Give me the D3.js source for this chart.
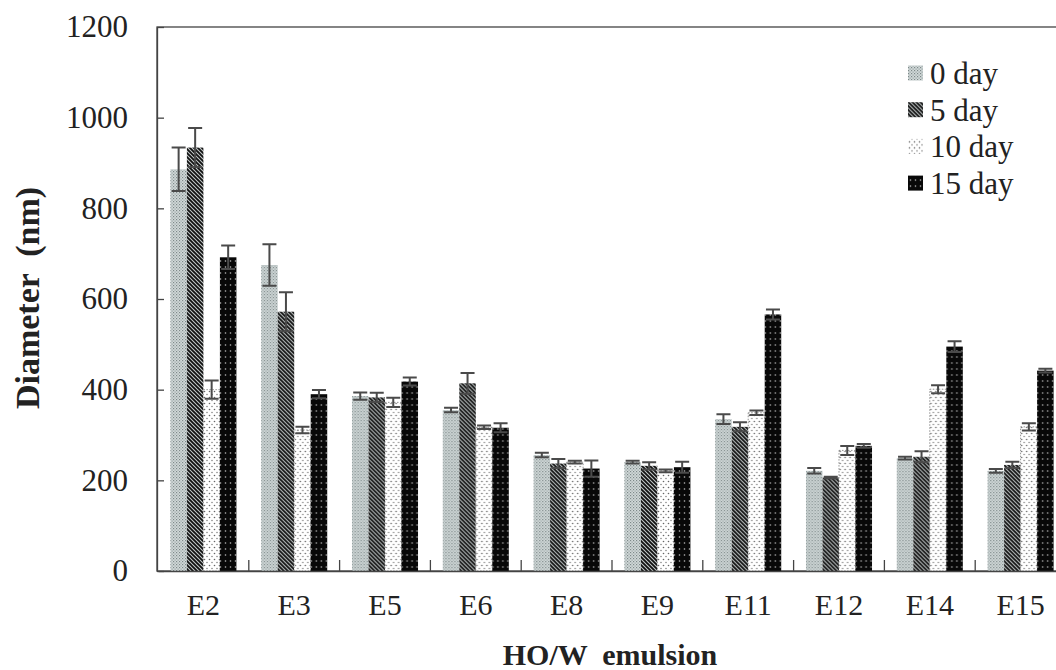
<!DOCTYPE html>
<html>
<head>
<meta charset="utf-8">
<script src="https://cdn.jsdelivr.net/npm/d3@7"></script>
<style>
  body { margin: 0; background: #fff; }
  svg text { font-family: "Liberation Serif", "Times New Roman", serif; fill: #222; }
</style>
</head>
<body>
<div id="chart"></div>
<script>
// emulsion samples
const categories = ["E2", "E3", "E5", "E6", "E8", "E9", "E11", "E12", "E14", "E15"];
const seriesNames = ["0 day", "5 day", "10 day", "15 day"];

// mean diameter (nm) per series, in category order
const day0  = [886, 675, 386, 355, 256, 240, 335, 221, 249, 221];
const day5  = [934, 572, 383, 414, 237, 232, 318, 206, 252, 234];
const day10 = [400, 311, 372, 317, 240, 221, 349, 266, 401, 318];
const day15 = [692, 390, 418, 316, 226, 229, 566, 276, 495, 442];

// error bars (nm)
const err0  = [48, 46, 8, 5, 5, 3, 11, 6, 3, 4];
const err5  = [43, 43, 10, 23, 10, 8, 10, 2, 12, 7];
const err10 = [20, 7, 10, 4, 3, 3, 5, 10, 9, 8];
const err15 = [26, 9, 9, 10, 18, 12, 11, 4, 12, 4];

const yTicks = [0, 200, 400, 600, 800, 1000, 1200];

const values = [day0, day5, day10, day15];
const errors = [err0, err5, err10, err15];

const W = 1056, H = 670;
const plotLeft = 157, plotTop = 27, plotBottom = 571;

const svg = d3.select("#chart").append("svg")
  .attr("width", W).attr("height", H);

// fill patterns
const defs = svg.append("defs");

let p = defs.append("pattern").attr("id", "pat0")
  .attr("patternUnits", "userSpaceOnUse").attr("width", 3).attr("height", 3);
p.append("rect").attr("width", 3).attr("height", 3).attr("fill", "#d2d9d9");
p.append("rect").attr("x", 0).attr("y", 0).attr("width", 1.2).attr("height", 1.2).attr("fill", "#7d8989");
p.append("rect").attr("x", 1.5).attr("y", 1.5).attr("width", 1.2).attr("height", 1.2).attr("fill", "#95a0a0");

p = defs.append("pattern").attr("id", "pat1")
  .attr("patternUnits", "userSpaceOnUse").attr("width", 4).attr("height", 4);
p.append("rect").attr("width", 4).attr("height", 4).attr("fill", "#c3c9c9");
p.append("path").attr("d", "M-1,-1L5,5M-1,3L1,5M3,-1L5,1")
  .attr("stroke", "#111").attr("stroke-width", 1.8);

p = defs.append("pattern").attr("id", "pat2")
  .attr("patternUnits", "userSpaceOnUse").attr("width", 5).attr("height", 6);
p.append("rect").attr("width", 5).attr("height", 6).attr("fill", "#fff");
p.append("circle").attr("cx", 1.5).attr("cy", 1.5).attr("r", 0.8).attr("fill", "#666");
p.append("circle").attr("cx", 4).attr("cy", 4.5).attr("r", 0.8).attr("fill", "#888");

p = defs.append("pattern").attr("id", "pat3")
  .attr("patternUnits", "userSpaceOnUse").attr("width", 5).attr("height", 6);
p.append("rect").attr("width", 5).attr("height", 6).attr("fill", "#080808");
p.append("circle").attr("cx", 2.5).attr("cy", 3).attr("r", 0.8).attr("fill", "#bbb");

const fills = ["url(#pat0)", "url(#pat1)", "url(#pat2)", "url(#pat3)"];

// scales
const x = d3.scaleBand().domain(categories).range([plotLeft + 1, plotLeft + 1 + 90.8 * categories.length]);
const xSub = d3.scaleBand().domain(seriesNames).range([0, x.bandwidth()]).paddingOuter(0.75);
const y = d3.scaleLinear().domain([0, 1200]).range([plotBottom, plotTop]);

// frame (right side runs past the window)
svg.append("rect")
  .attr("x", plotLeft).attr("y", plotTop)
  .attr("width", x.range()[1] - plotLeft).attr("height", plotBottom - plotTop)
  .attr("fill", "none").attr("stroke", "#444").attr("stroke-width", 1.3);

// bars
const groups = svg.append("g").selectAll("g")
  .data(categories)
  .join("g")
  .attr("transform", d => "translate(" + x(d) + ",0)");

seriesNames.forEach((s, si) => {
  groups.append("rect")
    .attr("x", xSub(s))
    .attr("y", (d, i) => y(values[si][i]))
    .attr("width", xSub.bandwidth())
    .attr("height", (d, i) => plotBottom - y(values[si][i]))
    .attr("fill", fills[si])
    .attr("stroke", si == 2 ? "#777" : "none")
    .attr("stroke-width", 0.8)
    .attr("stroke-dasharray", si == 2 ? "1.5,1.5" : null);
});

// error bars
seriesNames.forEach((s, si) => {
  const cx = xSub(s) + xSub.bandwidth() / 2;
  groups.append("path")
    .attr("d", (d, i) => {
      const v = values[si][i], e = errors[si][i];
      const y1 = y(v + e), y2 = y(v - e);
      return "M" + cx + "," + y1 + "V" + y2 +
        "M" + (cx - 7) + "," + y1 + "H" + (cx + 7) +
        "M" + (cx - 7) + "," + y2 + "H" + (cx + 7);
    })
    .attr("fill", "none")
    .attr("stroke", "#4a4a4a")
    .attr("stroke-width", 2);
});

// y axis
const yAxis = svg.append("g")
  .attr("transform", "translate(" + plotLeft + ",0)")
  .call(d3.axisLeft(y).tickValues(yTicks).tickFormat(d3.format("d"))
    .tickSizeInner(-7).tickSizeOuter(0).tickPadding(29));
yAxis.select(".domain").attr("stroke", "#444").attr("stroke-width", 1.3);
yAxis.selectAll(".tick line").attr("stroke", "#444").attr("stroke-width", 1.3);
yAxis.selectAll(".tick text")
  .style("font-size", "31px").attr("fill", "#222")
  .attr("font-family", null);

// x axis
const xAxis = svg.append("g")
  .attr("transform", "translate(0," + plotBottom + ")")
  .call(d3.axisBottom(x).tickSize(0).tickPadding(0));
xAxis.select(".domain").attr("stroke", "#444").attr("stroke-width", 1.3);
xAxis.selectAll(".tick text")
  .attr("dy", null).attr("y", 44)
  .style("font-size", "30px").attr("fill", "#222")
  .attr("font-family", null);

// boundary ticks between groups
svg.append("g").selectAll("line")
  .data(categories.slice(1))
  .join("line")
  .attr("x1", d => x(d)).attr("x2", d => x(d))
  .attr("y1", plotBottom).attr("y2", plotBottom - 11)
  .attr("stroke", "#444").attr("stroke-width", 1.3);

// axis titles
svg.append("text")
  .attr("x", 610).attr("y", 665)
  .attr("text-anchor", "middle")
  .style("font-size", "30px").style("font-weight", "bold")
  .attr("xml:space", "preserve")
  .text("HO/W  emulsion");

svg.append("text")
  .attr("transform", "translate(39,298) rotate(-90)")
  .attr("text-anchor", "middle")
  .style("font-size", "34px").style("font-weight", "bold")
  .attr("xml:space", "preserve")
  .text("Diameter  (nm)");

// legend
const legend = svg.append("g").selectAll("g")
  .data(seriesNames)
  .join("g")
  .attr("transform", (d, i) => "translate(908," + (73 + i * 36.7) + ")");
legend.append("rect")
  .attr("x", 0).attr("y", -7.5).attr("width", 15).attr("height", 15)
  .attr("fill", (d, i) => fills[i]);
legend.append("text")
  .attr("x", 22).attr("dy", "0.35em")
  .style("font-size", "31px")
  .text(d => d);
</script>
</body>
</html>
